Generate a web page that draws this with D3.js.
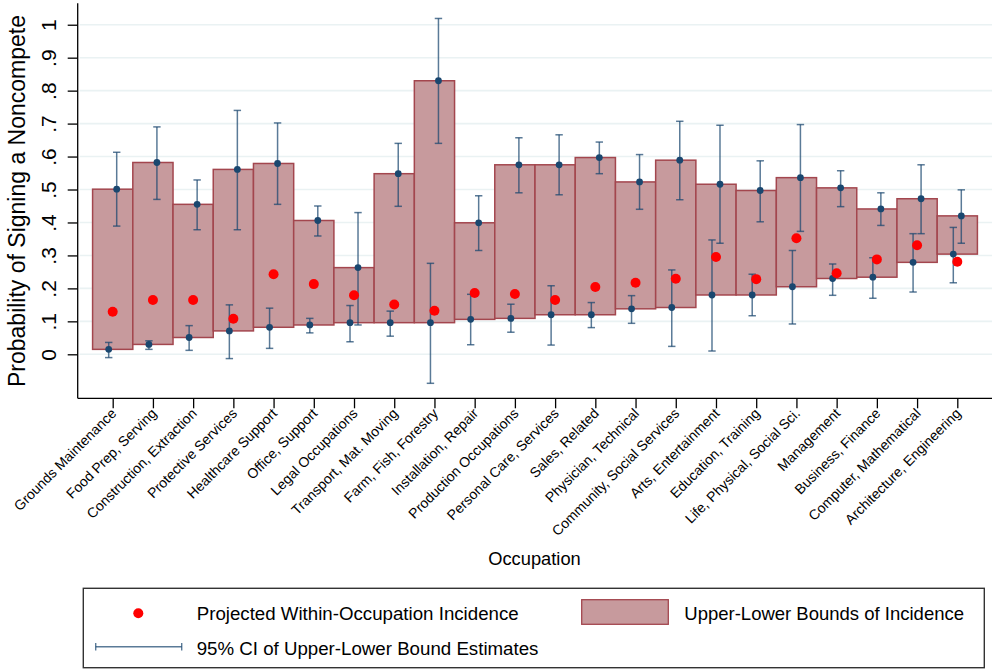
<!DOCTYPE html>
<meta charset="utf-8">
<style>
body { margin: 0; background: #fff; }
text { font-family: "Liberation Sans", Arial, Helvetica, sans-serif; fill: #000; }
</style>
<body>
<script src="https://cdn.jsdelivr.net/npm/d3@7"></script>
<div id="content"></div>
<script>
var width = 992,
    height = 671;

// occupation categories, ordered as on the axis
var occupations = ["Grounds Maintenance", "Food Prep, Serving", "Construction, Extraction",
  "Protective Services", "Healthcare Support", "Office, Support", "Legal Occupations",
  "Transport, Mat. Moving", "Farm, Fish, Forestry", "Installation, Repair",
  "Production Occupations", "Personal Care, Services", "Sales, Related",
  "Physician, Technical", "Community, Social Services", "Arts, Entertainment",
  "Education, Training", "Life, Physical, Social Sci.", "Management",
  "Business, Finance", "Computer, Mathematical", "Architecture, Engineering"];

// upper and lower bound estimates
var upperBound = [0.501, 0.582, 0.455, 0.561, 0.579, 0.406, 0.263, 0.548, 0.830, 0.399, 0.575,
                  0.575, 0.597, 0.523, 0.589, 0.516, 0.497, 0.536, 0.505, 0.441, 0.472, 0.420];
var lowerBound = [0.015, 0.030, 0.051, 0.071, 0.082, 0.089, 0.096, 0.096, 0.096, 0.106, 0.109,
                  0.120, 0.120, 0.138, 0.142, 0.180, 0.180, 0.205, 0.230, 0.234, 0.279, 0.304];

// 95% CI of the upper bound
var upperCiLo = [0.389, 0.470, 0.378, 0.378, 0.455, 0.359, 0.089, 0.449, 0.640, 0.315, 0.490,
                 0.484, 0.548, 0.440, 0.469, 0.337, 0.402, 0.373, 0.448, 0.391, 0.366, 0.337];
var upperCiHi = [0.613, 0.690, 0.529, 0.740, 0.702, 0.450, 0.430, 0.640, 1.019, 0.481, 0.657,
                 0.666, 0.644, 0.606, 0.707, 0.695, 0.587, 0.697, 0.557, 0.490, 0.575, 0.499];

// 95% CI of the lower bound
var lowerCiLo = [-0.010, 0.015, 0.012, -0.013, 0.018, 0.065, 0.038, 0.055, -0.088, 0.029, 0.067,
                 0.028, 0.081, 0.094, 0.024, 0.010, 0.117, 0.092, 0.179, 0.170, 0.189, 0.217];
var lowerCiHi = [0.036, 0.041, 0.087, 0.150, 0.140, 0.109, 0.148, 0.131, 0.276, 0.182, 0.152,
                 0.208, 0.157, 0.178, 0.256, 0.347, 0.243, 0.315, 0.274, 0.293, 0.366, 0.385];

// projected within-occupation incidence
var projected = [0.129, 0.165, 0.165, 0.108, 0.243, 0.213, 0.179, 0.151, 0.132, 0.186, 0.183,
                 0.165, 0.204, 0.217, 0.229, 0.295, 0.228, 0.352, 0.246, 0.288, 0.331, 0.281];

var yTicks = [0, 0.1, 0.2, 0.3, 0.4, 0.5, 0.6, 0.7, 0.8, 0.9, 1];
var yTickLabels = ["0", ".1", ".2", ".3", ".4", ".5", ".6", ".7", ".8", ".9", "1"];

var barFill = "#c79a9d",
    barStroke = "#a3464e",
    navy = "#1a476f",
    red = "#ff0000";

var plotLeft = 77.7, plotRight = 992, plotTop = 3.3, plotBottom = 398.3;

var svg = d3.select("#content").append("svg")
    .attr("width", width)
    .attr("height", height);

var x = d3.scalePoint()
    .domain(occupations)
    .range([112.7, 957.3]);
var step = x.step();

var y = d3.scaleLinear()
    .domain([-0.1335, 1.065])
    .range([plotBottom, plotTop]);

// grid
svg.append("g").selectAll("line")
    .data(yTicks)
    .enter().append("line")
    .attr("x1", plotLeft + 2).attr("x2", plotRight)
    .attr("y1", d => y(d)).attr("y2", d => y(d))
    .style("stroke", "#eaf2f3")
    .style("stroke-width", 1.6);

var rows = occupations.map((o, i) => ({
  occ: o, up: upperBound[i], lo: lowerBound[i],
  uLo: upperCiLo[i], uHi: upperCiHi[i], lLo: lowerCiLo[i], lHi: lowerCiHi[i],
  proj: projected[i]
}));

// bounds boxes
svg.append("g").selectAll("rect")
    .data(rows)
    .enter().append("rect")
    .attr("x", d => x(d.occ) - step / 2)
    .attr("width", step)
    .attr("y", d => y(d.up))
    .attr("height", d => y(d.lo) - y(d.up))
    .style("fill", barFill)
    .style("stroke", barStroke)
    .style("stroke-width", 1.5);

// CI whiskers
var ciData = [];
rows.forEach(d => {
  ciData.push({cx: x(d.occ) + 4, lo: d.uLo, hi: d.uHi});
  ciData.push({cx: x(d.occ) - 4, lo: d.lLo, hi: d.lHi});
});
var ci = svg.append("g")
    .style("stroke", navy)
    .style("stroke-opacity", 0.72)
    .style("stroke-width", 1.5)
    .selectAll("g")
    .data(ciData)
    .enter().append("g");
ci.append("line")
    .attr("x1", d => d.cx).attr("x2", d => d.cx)
    .attr("y1", d => y(d.lo)).attr("y2", d => y(d.hi));
ci.append("line")
    .attr("x1", d => d.cx - 3.7).attr("x2", d => d.cx + 3.7)
    .attr("y1", d => y(d.lo)).attr("y2", d => y(d.lo));
ci.append("line")
    .attr("x1", d => d.cx - 3.7).attr("x2", d => d.cx + 3.7)
    .attr("y1", d => y(d.hi)).attr("y2", d => y(d.hi));

// point estimates of the bounds
svg.append("g").selectAll("circle")
    .data(rows)
    .enter().append("circle")
    .attr("cx", d => x(d.occ) + 4)
    .attr("cy", d => y(d.up))
    .attr("r", 3.4)
    .style("fill", navy);
svg.append("g").selectAll("circle")
    .data(rows)
    .enter().append("circle")
    .attr("cx", d => x(d.occ) - 4)
    .attr("cy", d => y(d.lo))
    .attr("r", 3.4)
    .style("fill", navy);

// projected incidence
svg.append("g").selectAll("circle")
    .data(rows)
    .enter().append("circle")
    .attr("cx", d => x(d.occ))
    .attr("cy", d => y(d.proj))
    .attr("r", 5)
    .style("fill", red);

// y axis
var yAxis = svg.append("g")
    .attr("transform", "translate(" + plotLeft + ",0)")
    .call(d3.axisLeft(y).tickValues(yTicks).tickSize(10).tickFormat((d, i) => yTickLabels[i]));
yAxis.select(".domain").attr("d", "M0," + plotTop + "V" + plotBottom).style("stroke", "#000").style("stroke-width", 1.3);
yAxis.selectAll(".tick line").style("stroke", "#000").style("stroke-width", 1.3);
yAxis.selectAll(".tick text")
    .attr("x", null).attr("dy", null)
    .attr("transform", "translate(-21.7,0) rotate(-90)")
    .attr("text-anchor", "middle")
    .style("font-size", "21px")
    .style("font-family", "'Liberation Sans', Arial, sans-serif");

// x axis
var xAxis = svg.append("g")
    .attr("transform", "translate(0," + plotBottom + ")")
    .call(d3.axisBottom(x).tickSize(10).tickSizeOuter(0));
xAxis.select(".domain").attr("d", "M" + plotLeft + ",0H" + plotRight).style("stroke", "#000").style("stroke-width", 1.3);
xAxis.selectAll(".tick line").style("stroke", "#000").style("stroke-width", 1.3);
xAxis.selectAll(".tick text")
    .attr("y", null).attr("dy", null)
    .attr("transform", "translate(4,16) rotate(-45)")
    .attr("text-anchor", "end")
    .style("font-size", "14px")
    .style("font-family", "'Liberation Sans', Arial, sans-serif");

// axis titles
svg.append("text")
    .attr("transform", "translate(25,201) rotate(-90)")
    .attr("text-anchor", "middle")
    .style("font-size", "23px")
    .text("Probability of Signing a Noncompete");

svg.append("text")
    .attr("x", 534.5).attr("y", 565)
    .attr("text-anchor", "middle")
    .style("font-size", "18.3px")
    .text("Occupation");

// legend
var legend = svg.append("g");
legend.append("rect")
    .attr("x", 83.3).attr("y", 588.3)
    .attr("width", 901).attr("height", 79.4)
    .style("fill", "#fff")
    .style("stroke", "#333")
    .style("stroke-width", 1.4);

legend.append("circle")
    .attr("cx", 138.3).attr("cy", 613.3).attr("r", 5)
    .style("fill", red);
legend.append("text")
    .attr("x", 196.7).attr("y", 620)
    .style("font-size", "18.7px")
    .text("Projected Within-Occupation Incidence");

legend.append("rect")
    .attr("x", 581.7).attr("y", 599.7)
    .attr("width", 86.6).attr("height", 24.6)
    .style("fill", barFill)
    .style("stroke", barStroke)
    .style("stroke-width", 1.3);
legend.append("text")
    .attr("x", 684.3).attr("y", 620)
    .style("font-size", "18.5px")
    .text("Upper-Lower Bounds of Incidence");

var ciKey = legend.append("g")
    .style("stroke", navy)
    .style("stroke-opacity", 0.72)
    .style("stroke-width", 1.4);
ciKey.append("line").attr("x1", 95.7).attr("x2", 181.7).attr("y1", 646.7).attr("y2", 646.7);
ciKey.append("line").attr("x1", 95.7).attr("x2", 95.7).attr("y1", 643).attr("y2", 650.4);
ciKey.append("line").attr("x1", 181.7).attr("x2", 181.7).attr("y1", 643).attr("y2", 650.4);
legend.append("text")
    .attr("x", 196.7).attr("y", 655)
    .style("font-size", "18.7px")
    .text("95% CI of Upper-Lower Bound Estimates");
</script>
